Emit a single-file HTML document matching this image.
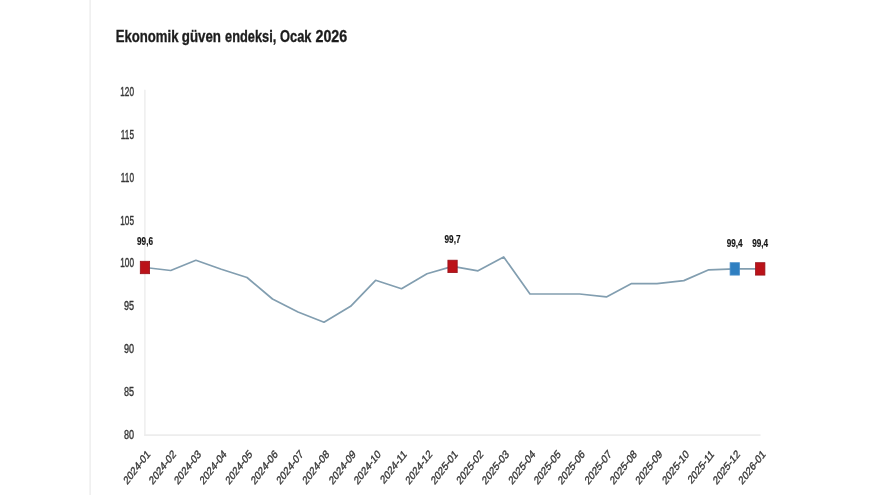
<!DOCTYPE html>
<html lang="tr"><head><meta charset="utf-8"><title>Ekonomik güven endeksi, Ocak 2026</title>
<style>
html,body{margin:0;padding:0;background:#fff;}
body{width:880px;height:495px;overflow:hidden;}
svg{display:block;}
text{font-family:"Liberation Sans",sans-serif;}
.ax{fill:#363636;font-size:13px;stroke:#363636;stroke-width:0.4px;}
.xl{fill:#363636;font-size:11.7px;stroke:#363636;stroke-width:0.4px;}
.dl{fill:#151515;font-size:11.3px;font-weight:bold;stroke:#151515;stroke-width:0.2px;}
.title{fill:#1c1c1c;font-size:17.2px;font-weight:bold;stroke:#1c1c1c;stroke-width:0.35px;}
</style></head><body>
<svg width="880" height="495" viewBox="0 0 880 495">
<rect x="0" y="0" width="880" height="495" fill="#ffffff"/>
<rect x="89.3" y="0" width="1.6" height="495" fill="#efefef"/>
<line x1="144.9" y1="89.8" x2="144.9" y2="435.9" stroke="#eaeaea" stroke-width="1.25"/>
<line x1="144.3" y1="435.1" x2="760.5" y2="435.1" stroke="#ededed" stroke-width="1.6"/>
<text class="title" y="42"><tspan x="115.7" textLength="62.8" lengthAdjust="spacingAndGlyphs">Ekonomik</tspan> <tspan x="181.8" textLength="39.2" lengthAdjust="spacingAndGlyphs">güven</tspan> <tspan x="225.1" textLength="51.2" lengthAdjust="spacingAndGlyphs">endeksi,</tspan> <tspan x="280.1" textLength="31.4" lengthAdjust="spacingAndGlyphs">Ocak</tspan> <tspan x="315.5" textLength="31.7" lengthAdjust="spacingAndGlyphs">2026</tspan></text>
<text class="ax" transform="translate(134.0,95.9) scale(0.635,1)" text-anchor="end">120</text>
<text class="ax" transform="translate(134.0,138.8) scale(0.635,1)" text-anchor="end">115</text>
<text class="ax" transform="translate(134.0,181.6) scale(0.635,1)" text-anchor="end">110</text>
<text class="ax" transform="translate(134.0,224.5) scale(0.635,1)" text-anchor="end">105</text>
<text class="ax" transform="translate(134.0,267.4) scale(0.635,1)" text-anchor="end">100</text>
<text class="ax" transform="translate(134.0,310.2) scale(0.7,1)" text-anchor="end">95</text>
<text class="ax" transform="translate(134.0,353.1) scale(0.7,1)" text-anchor="end">90</text>
<text class="ax" transform="translate(134.0,396.0) scale(0.7,1)" text-anchor="end">85</text>
<text class="ax" transform="translate(134.0,438.9) scale(0.7,1)" text-anchor="end">80</text>
<polyline points="145.0,267.5 170.7,270.5 195.9,260.3 221.3,269.3 247.0,277.5 272.5,299.0 298.0,312.0 324.0,322.2 350.6,306.3 375.6,280.3 401.5,288.7 427.0,273.7 452.5,266.4 478.0,270.8 503.7,257.0 530.0,294.0 555.5,294.0 579.6,294.0 606.4,296.9 631.6,283.6 657.0,283.6 683.8,280.6 708.8,269.8 734.7,268.9 760.2,268.9" fill="none" stroke="#829eb0" stroke-width="1.7" stroke-linejoin="round"/>
<rect x="140.3" y="261.3" width="9.3" height="12.4" fill="#bb1219" stroke="#98121a" stroke-width="0.8"/>
<rect x="447.9" y="260.2" width="9.3" height="12.4" fill="#bb1219" stroke="#98121a" stroke-width="0.8"/>
<rect x="730.1" y="262.7" width="9.3" height="12.4" fill="#2f7fc1" stroke="#4a8fcb" stroke-width="0.8"/>
<rect x="755.6" y="262.7" width="9.3" height="12.4" fill="#bb1219" stroke="#98121a" stroke-width="0.8"/>
<text class="dl" transform="translate(145.0,245.2) scale(0.725,1)" text-anchor="middle">99,6</text>
<text class="dl" transform="translate(452.5,243.3) scale(0.725,1)" text-anchor="middle">99,7</text>
<text class="dl" transform="translate(734.7,246.9) scale(0.725,1)" text-anchor="middle">99,4</text>
<text class="dl" transform="translate(760.2,246.9) scale(0.725,1)" text-anchor="middle">99,4</text>
<text class="xl" transform="translate(150.8,454.8) scale(0.78,1) rotate(-45)" text-anchor="end">2024-01</text>
<text class="xl" transform="translate(176.5,454.8) scale(0.78,1) rotate(-45)" text-anchor="end">2024-02</text>
<text class="xl" transform="translate(201.7,454.8) scale(0.78,1) rotate(-45)" text-anchor="end">2024-03</text>
<text class="xl" transform="translate(227.1,454.8) scale(0.78,1) rotate(-45)" text-anchor="end">2024-04</text>
<text class="xl" transform="translate(252.8,454.8) scale(0.78,1) rotate(-45)" text-anchor="end">2024-05</text>
<text class="xl" transform="translate(278.3,454.8) scale(0.78,1) rotate(-45)" text-anchor="end">2024-06</text>
<text class="xl" transform="translate(303.8,454.8) scale(0.78,1) rotate(-45)" text-anchor="end">2024-07</text>
<text class="xl" transform="translate(329.8,454.8) scale(0.78,1) rotate(-45)" text-anchor="end">2024-08</text>
<text class="xl" transform="translate(356.4,454.8) scale(0.78,1) rotate(-45)" text-anchor="end">2024-09</text>
<text class="xl" transform="translate(381.4,454.8) scale(0.78,1) rotate(-45)" text-anchor="end">2024-10</text>
<text class="xl" transform="translate(407.3,454.8) scale(0.78,1) rotate(-45)" text-anchor="end">2024-11</text>
<text class="xl" transform="translate(432.8,454.8) scale(0.78,1) rotate(-45)" text-anchor="end">2024-12</text>
<text class="xl" transform="translate(458.3,454.8) scale(0.78,1) rotate(-45)" text-anchor="end">2025-01</text>
<text class="xl" transform="translate(483.8,454.8) scale(0.78,1) rotate(-45)" text-anchor="end">2025-02</text>
<text class="xl" transform="translate(509.5,454.8) scale(0.78,1) rotate(-45)" text-anchor="end">2025-03</text>
<text class="xl" transform="translate(535.8,454.8) scale(0.78,1) rotate(-45)" text-anchor="end">2025-04</text>
<text class="xl" transform="translate(561.3,454.8) scale(0.78,1) rotate(-45)" text-anchor="end">2025-05</text>
<text class="xl" transform="translate(585.4,454.8) scale(0.78,1) rotate(-45)" text-anchor="end">2025-06</text>
<text class="xl" transform="translate(612.2,454.8) scale(0.78,1) rotate(-45)" text-anchor="end">2025-07</text>
<text class="xl" transform="translate(637.4,454.8) scale(0.78,1) rotate(-45)" text-anchor="end">2025-08</text>
<text class="xl" transform="translate(662.8,454.8) scale(0.78,1) rotate(-45)" text-anchor="end">2025-09</text>
<text class="xl" transform="translate(689.6,454.8) scale(0.78,1) rotate(-45)" text-anchor="end">2025-10</text>
<text class="xl" transform="translate(714.6,454.8) scale(0.78,1) rotate(-45)" text-anchor="end">2025-11</text>
<text class="xl" transform="translate(740.5,454.8) scale(0.78,1) rotate(-45)" text-anchor="end">2025-12</text>
<text class="xl" transform="translate(766.0,454.8) scale(0.78,1) rotate(-45)" text-anchor="end">2026-01</text>
</svg>
</body></html>
